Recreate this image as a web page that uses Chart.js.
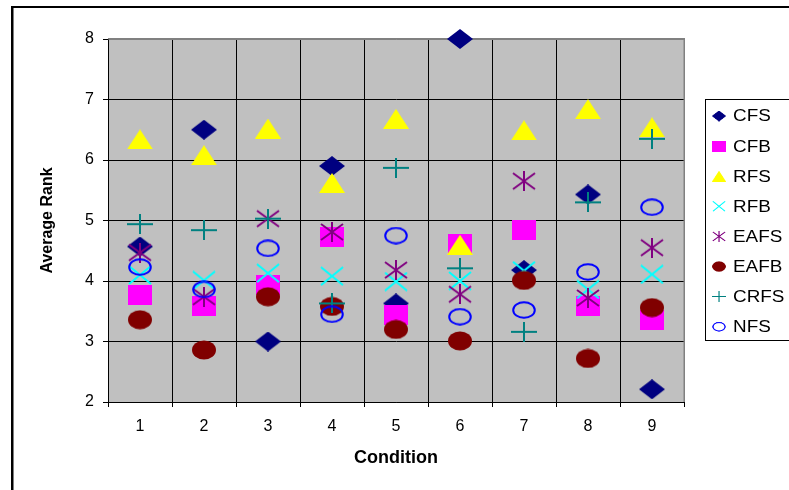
<!DOCTYPE html>
<html>
<head>
<meta charset="utf-8">
<script src="https://cdn.jsdelivr.net/npm/chart.js@4.4.0/dist/chart.umd.min.js"></script>
<style>
html,body{margin:0;padding:0;background:#fff;}
#wrap{width:789px;height:490px;position:relative;}
</style>
</head>
<body>
<div id="wrap"><canvas id="c" width="789" height="490"></canvas></div>
<script>
// ---- data ----
const conditions = ['1','2','3','4','5','6','7','8','9'];
const seriesNames = ['CFS','CFB','RFS','RFB','EAFS','EAFB','CRFS','NFS'];
const CFS  = [4.57, 6.50, 3.00, 5.90, 3.63, 8.00, 4.18, 5.43, 2.21];
const CFB  = [3.77, 3.59, 3.94, 4.72, 3.43, 4.61, 4.85, 3.59, 3.36];
const RFS  = [6.34, 6.08, 6.52, 5.62, 6.68, 4.60, 6.49, 6.84, 6.54];
const RFB  = [4.10, 4.01, 4.13, 4.08, 3.99, 4.00, 4.17, 3.86, 4.11];
const EAFS = [4.47, 3.74, 5.03, 4.81, 4.18, 3.78, 5.65, 3.72, 4.55];
const EAFB = [3.36, 2.86, 3.74, 3.58, 3.20, 3.01, 4.01, 2.72, 3.56];
const CRFS = [4.94, 4.84, 5.03, 3.63, 5.87, 4.21, 3.16, 5.30, 6.35];
const NFS  = [4.23, 3.86, 4.54, 3.45, 4.75, 3.41, 3.52, 4.15, 5.22];
const yTicks = [2, 3, 4, 5, 6, 7, 8];
const seriesValues = [CFS, CFB, RFS, RFB, EAFS, EAFB, CRFS, NFS];

// ---- marker images (Excel-like, slightly wide) ----
function marker(w, h, draw) {
  const c = document.createElement('canvas');
  c.width = w; c.height = h;
  const g = c.getContext('2d');
  draw(g, w, h);
  return c;
}
const markers = [
  marker(26, 20, (g, w, h) => { g.fillStyle = '#000080'; g.beginPath(); g.moveTo(0, h/2); g.lineTo(w/2, 0); g.lineTo(w, h/2); g.lineTo(w/2, h); g.closePath(); g.fill(); }),
  marker(24, 20, (g, w, h) => { g.fillStyle = '#FF00FF'; g.fillRect(0, 0, w, h); }),
  marker(26, 20, (g, w, h) => { g.fillStyle = '#FFFF00'; g.beginPath(); g.moveTo(w/2, 0); g.lineTo(w, h); g.lineTo(0, h); g.closePath(); g.fill(); }),
  marker(24, 20, (g, w, h) => { g.strokeStyle = '#00FFFF'; g.lineWidth = 2; g.beginPath(); g.moveTo(1, 1); g.lineTo(w-1, h-1); g.moveTo(w-1, 1); g.lineTo(1, h-1); g.stroke(); }),
  marker(24, 20, (g, w, h) => { g.strokeStyle = '#800080'; g.lineWidth = 2; g.beginPath(); g.moveTo(1, 2); g.lineTo(w-1, h-2); g.moveTo(w-1, 2); g.lineTo(1, h-2); g.moveTo(w/2, 0); g.lineTo(w/2, h); g.stroke(); }),
  marker(24, 20, (g, w, h) => { g.fillStyle = '#800000'; g.beginPath(); g.ellipse(w/2, h/2, w/2, h/2 - 0.5, 0, 0, Math.PI*2); g.fill(); }),
  marker(26, 20, (g, w, h) => { g.strokeStyle = '#008080'; g.lineWidth = 2; g.beginPath(); g.moveTo(0, h/2); g.lineTo(w, h/2); g.moveTo(w/2, 0); g.lineTo(w/2, h); g.stroke(); }),
  marker(24, 18, (g, w, h) => { g.strokeStyle = '#0000FF'; g.lineWidth = 2; g.beginPath(); g.ellipse(w/2, h/2, w/2 - 1.2, h/2 - 1.2, 0, 0, Math.PI*2); g.stroke(); })
];
const colors = ['#000080','#FF00FF','#FFFF00','#00FFFF','#800080','#800000','#008080','#0000FF'];

const datasets = seriesNames.map((name, i) => ({
  label: name,
  data: seriesValues[i],
  showLine: false,
  pointStyle: markers[i],
  pointRadius: 10,
  pointHoverRadius: 10,
  borderColor: colors[i],
  backgroundColor: colors[i],
  clip: false,
  order: seriesNames.length - i
}));

const FONT = '"Liberation Sans", Arial, sans-serif';

const bgPlugin = {
  id: 'bg',
  beforeDraw(chart) {
    const { ctx, chartArea: a } = chart;
    ctx.save();
    ctx.fillStyle = '#FFFFFF';
    ctx.fillRect(0, 0, chart.width, chart.height);
    ctx.fillStyle = '#C0C0C0';
    ctx.fillRect(a.left, a.top, a.right - a.left, a.bottom - a.top);
    ctx.restore();
  },
  beforeDatasetsDraw(chart) {
    const { ctx, chartArea: a } = chart;
    ctx.save();
    ctx.fillStyle = '#808080';
    ctx.fillRect(a.left, a.top - 1, a.right - a.left + 1, 1.5);
    ctx.fillRect(a.right - 0.5, a.top - 1, 1.5, a.bottom - a.top + 1);
    ctx.restore();
  },
  afterDraw(chart) {
    const { ctx } = chart;
    ctx.save();
    // outer frame
    ctx.fillStyle = '#000';
    ctx.fillRect(11, 6, 2.5, chart.height - 6);
    ctx.fillRect(11, 6, chart.width - 11, 2);
    // legend
    const lx = 705, ly = 99, lw = 110, lh = 241;
    ctx.fillStyle = '#FFFFFF';
    ctx.fillRect(lx, ly, lw, lh);
    ctx.strokeStyle = '#000';
    ctx.lineWidth = 1;
    ctx.strokeRect(lx + 0.5, ly + 0.5, lw, lh);
    const s = 0.55;
    ctx.font = '16px ' + FONT;
    ctx.textBaseline = 'middle';
    ctx.textAlign = 'left';
    chart.data.datasets.forEach((ds, i) => {
      const y = 116 + 30.1 * i;
      const img = ds.pointStyle;
      const w = img.width * s, h = img.height * s;
      ctx.drawImage(img, 719 - w / 2, y - h / 2, w, h);
      ctx.save();
      ctx.translate(733, y + 1);
      ctx.scale(1.18, 1);
      ctx.fillStyle = '#000';
      ctx.fillText(ds.label, 0, 0);
      ctx.restore();
    });
    ctx.restore();
  }
};

new Chart(document.getElementById('c'), {
  type: 'line',
  data: { labels: conditions, datasets },
  options: {
    responsive: false,
    animation: false,
    events: [],
    layout: { padding: { left: 0, right: 105, top: 39, bottom: 0 } },
    plugins: { legend: { display: false }, tooltip: { enabled: false } },
    scales: {
      x: {
        type: 'category',
        offset: true,
        grid: {
          offset: true,
          color: (c) => (c.index === conditions.length ? '#808080' : '#000000'),
          tickColor: '#000000',
          tickLength: 5,
          lineWidth: 1
        },
        border: { color: '#000000', width: 1 },
        ticks: { color: '#000', font: { family: FONT, size: 16 }, padding: 10, maxRotation: 0 },
        title: { display: true, text: 'Condition', color: '#000', font: { family: FONT, size: 18, weight: 'bold' }, padding: { top: 0, bottom: 21 } },
        afterFit(scale) { scale.height = 88; }
      },
      y: {
        min: 2,
        max: 8,
        afterBuildTicks(scale) { scale.ticks = yTicks.map(v => ({ value: v })); },
        grid: {
          color: (c) => (c.tick && c.tick.value === 8 ? '#808080' : '#000000'),
          tickColor: '#000000',
          tickLength: 5,
          lineWidth: 1
        },
        border: { color: '#000000', width: 1 },
        ticks: { color: '#000', font: { family: FONT, size: 16 }, padding: 9 },
        title: { display: true, text: 'Average Rank', color: '#000', font: { family: FONT, size: 16, weight: 'bold' }, padding: { top: 38, bottom: 0 } },
        afterFit(scale) { scale.width = 108; }
      }
    }
  },
  plugins: [bgPlugin]
});
</script>
</body>
</html>
